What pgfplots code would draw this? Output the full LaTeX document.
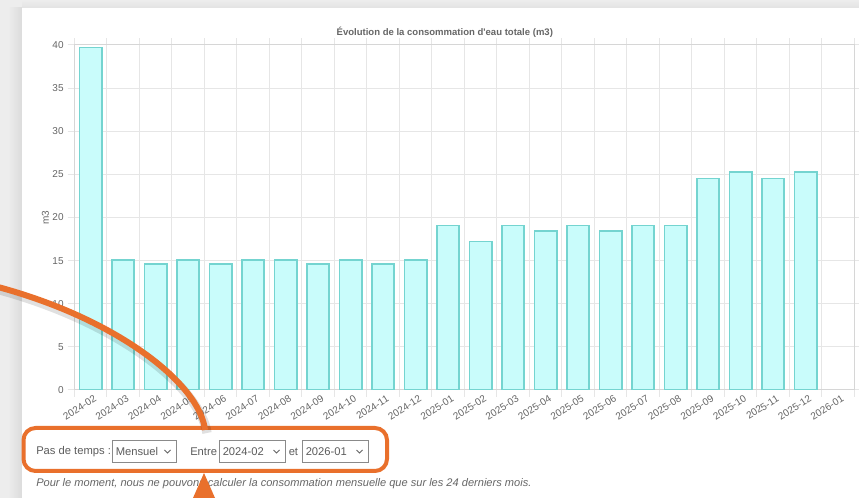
\documentclass[border=0pt]{standalone}
\usepackage{fontspec}
\setmainfont{Liberation Sans}[Ligatures=TeXOff]
\usepackage{pgfplots}
\pgfplotsset{compat=1.18}
\definecolor{barfill}{HTML}{C9FCFB}
\definecolor{baredge}{HTML}{74D4D0}
\definecolor{gridc}{HTML}{E6E6E6}
\definecolor{axisc}{HTML}{D6D6D6}
\definecolor{txt}{HTML}{666666}
\definecolor{orng}{HTML}{E9702C}
\definecolor{pagebg}{HTML}{EDEDED}
\definecolor{selbox}{HTML}{8A8A8A}

\begin{document}
\begin{tikzpicture}
% the page: 859 x 498 px, 1 px = 0.75pt
\useasboundingbox (0,0) rectangle (644.25pt,373.5pt);
\begin{scope}[x=0.75pt, y=-0.75pt, yshift=373.5pt]
  \fill[pagebg] (0,0) rectangle (859,498);
  \shade[left color=pagebg, right color=gray!28] (8,8) rectangle (22,498);
  \shade[top color=pagebg, bottom color=gray!22] (22,0) rectangle (859,8);
  \fill[white] (22,8) rectangle (859,498);
\end{scope}

\begin{axis}[
    at={(55.725pt,81pt)}, anchor=south west,
    width=585pt, height=258.75pt, scale only axis,
    ybar, bar width=0.69,
    xmin=-0.5, xmax=23.5, ymin=0, ymax=40,
    xtick={0,...,23},
    xticklabels={2024-02,2024-03,2024-04,2024-05,2024-06,2024-07,2024-08,2024-09,2024-10,2024-11,2024-12,2025-01,2025-02,2025-03,2025-04,2025-05,2025-06,2025-07,2025-08,2025-09,2025-10,2025-11,2025-12,2026-01},
    minor xtick={-0.5,0.5,...,23.5},
    ytick={0,5,...,40},
    minor ytick={0,5,...,40},
    tick align=outside,
    major tick length=0pt,
    minor tick length=5pt,
    minor tick style={draw=gridc, line width=0.75pt},
    xminorgrids, ymajorgrids,
    grid style={draw=gridc, line width=0.75pt},
    minor grid style={draw=gridc, line width=0.75pt},
    axis line style={draw=axisc, line width=0.75pt},
    /pgf/number format/assume math mode=true,
    ticklabel style={font=\fontsize{7.5}{9}\selectfont, text=txt},
    xticklabel style={rotate=32, anchor=north east, inner sep=1pt, yshift=-3pt, xshift=1pt},
    yticklabel style={xshift=-4.5pt},
    ylabel={m3},
    every axis y label/.style={at={(axis description cs:-0.037,0.5)}, rotate=90, anchor=center, font=\fontsize{7.5}{9}\selectfont, text=txt},
    title={Évolution de la consommation d'eau totale (m3)},
    every axis title/.style={at={(axis description cs:0.475,1.038)}, anchor=center, font=\bfseries\fontsize{7.15}{9}\selectfont, text=txt},
  ]
  \addplot[draw=baredge, fill=barfill, line width=1.2pt] coordinates {
    (0,39.7) (1,15.1) (2,14.6) (3,15.1) (4,14.6) (5,15.1) (6,15.1) (7,14.6)
    (8,15.1) (9,14.6) (10,15.1) (11,19.05) (12,17.2) (13,19.05) (14,18.4)
    (15,19.05) (16,18.4) (17,19.05) (18,19.05) (19,24.5) (20,25.3) (21,24.5)
    (22,25.3)
  };
\end{axis}

\begin{scope}[x=0.75pt, y=-0.75pt, yshift=373.5pt]
  % time-step form
  \draw[orng, line width=3pt, rounded corners=9pt, fill=white] (23.5,428) rectangle (387,471);
  \begin{scope}[font=\fontsize{8.4}{10}\selectfont, text=txt!90!black]
    \node[anchor=west, inner sep=0] at (36,452) {Pas de temps :};
    \draw[selbox, line width=0.75pt] (112,441) rectangle (176.5,462.5);
    \node[anchor=west, inner sep=0] at (115.5,452) {Mensuel};
    \draw[txt, line width=0.6pt] (164.5,450) -- (167.5,453) -- (170.5,450);
    \node[anchor=west, inner sep=0] at (190,452) {Entre};
    \draw[selbox, line width=0.75pt] (219,441) rectangle (285.5,462.5);
    \node[anchor=west, inner sep=0] at (222.5,452) {2024-02};
    \draw[txt, line width=0.6pt] (273.5,450) -- (276.5,453) -- (279.5,450);
    \node[anchor=west, inner sep=0] at (288.5,452) {et};
    \draw[selbox, line width=0.75pt] (302,441) rectangle (368.5,462.5);
    \node[anchor=west, inner sep=0] at (305.5,452) {2026-01};
    \draw[txt, line width=0.6pt] (356.5,450) -- (359.5,453) -- (362.5,450);
  \end{scope}
  \node[anchor=west, inner sep=0, font=\itshape\fontsize{8.3}{10}\selectfont, text=txt] at (36,483.5)
    {Pour le moment, nous ne pouvons calculer la consommation mensuelle que sur les 24 derniers mois.};

  % orange pointers
  \draw[black, opacity=0.12, line width=7pt] (0,290) .. controls (120,323) and (200,388) .. (207,433);
  \draw[orng, line width=4.5pt] (-2,287) .. controls (120,320) and (200,385) .. (205,430);
  \fill[orng] (204,473) -- (215,498) -- (193,498) -- cycle;
\end{scope}
\end{tikzpicture}
\end{document}
